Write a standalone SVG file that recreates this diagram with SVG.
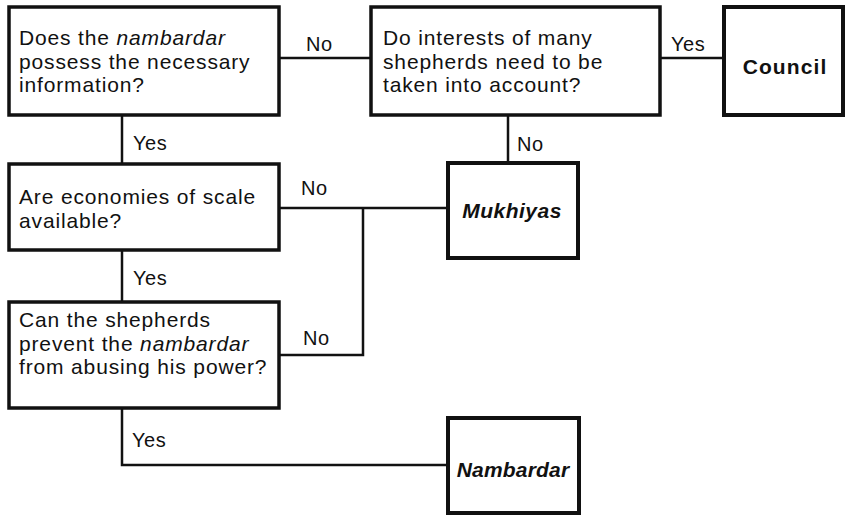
<svg xmlns="http://www.w3.org/2000/svg" width="846" height="518" viewBox="0 0 846 518">
<style>
.box{fill:#fff;stroke:#111;stroke-width:3.5}
.term{fill:#fff;stroke:#111;stroke-width:4}
.c{fill:none;stroke:#111;stroke-width:2.5}
text{font-family:"Liberation Sans",Arial,sans-serif;font-size:21px;fill:#111;letter-spacing:0.85px}
.lbl{font-size:20px;letter-spacing:0.5px}
.b{font-weight:bold;text-anchor:middle}
.i{font-style:italic}
</style>
<rect width="846" height="518" fill="#fff"/>
<g id="connectors">
<path class="c" d="M279 58H371"/>
<path class="c" d="M660 58H724"/>
<path class="c" d="M122 115V164"/>
<path class="c" d="M508 115V163"/>
<path class="c" d="M279 208H448"/>
<path class="c" d="M363 208V355H279"/>
<path class="c" d="M122 250V302"/>
<path class="c" d="M122 408V465H448"/>
<text class="lbl" x="306" y="51">No</text>
<text class="lbl" x="671" y="51">Yes</text>
<text class="lbl" x="133" y="150">Yes</text>
<text class="lbl" x="517" y="151">No</text>
<text class="lbl" x="301" y="195">No</text>
<text class="lbl" x="133" y="285">Yes</text>
<text class="lbl" x="303" y="345">No</text>
<text class="lbl" x="132" y="447">Yes</text>
</g>
<g id="q1">
<rect class="box" x="9" y="7" width="270" height="108"/>
<text x="19" y="45">Does the <tspan class="i">nambardar</tspan></text>
<text x="19" y="68.5">possess the necessary</text>
<text x="19" y="92">information?</text>
</g>
<g id="q2">
<rect class="box" x="371" y="7" width="289" height="108"/>
<text x="383" y="45">Do interests of many</text>
<text x="383" y="68.5">shepherds need to be</text>
<text x="383" y="92">taken into account?</text>
</g>
<g id="council">
<rect class="term" x="724" y="7" width="119" height="108"/>
<text class="b" x="785" y="74" style="letter-spacing:1.1px">Council</text>
</g>
<g id="q3">
<rect class="box" x="9" y="164" width="270" height="86"/>
<text x="19" y="204">Are economies of scale</text>
<text x="19" y="228">available?</text>
</g>
<g id="mukhiyas">
<rect class="term" x="448" y="163" width="130" height="95"/>
<text class="b i" x="512" y="218" style="letter-spacing:0.5px">Mukhiyas</text>
</g>
<g id="q4">
<rect class="box" x="9" y="302" width="270" height="106"/>
<text x="19" y="327">Can the shepherds</text>
<text x="19" y="350.5">prevent the <tspan class="i">nambardar</tspan></text>
<text x="19" y="374">from abusing his power?</text>
</g>
<g id="nambardar">
<rect class="term" x="448" y="418" width="131" height="95"/>
<text class="b i" x="513" y="477" style="letter-spacing:0.2px">Nambardar</text>
</g>
</svg>
